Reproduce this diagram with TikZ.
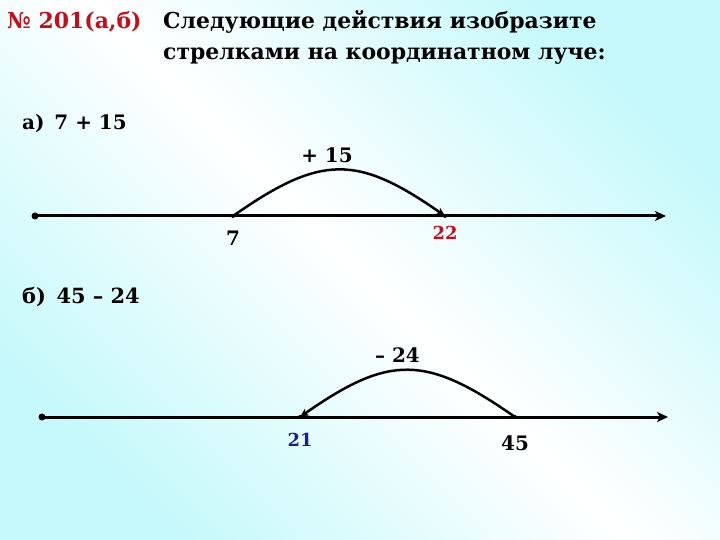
\documentclass[tikz,border=0pt]{standalone}
\usepackage{fontspec}
\setmainfont{DejaVu Serif}
\usepackage{tikz}
\usetikzlibrary{arrows.meta}
\definecolor{bgcyan}{RGB}{198,249,251}
\definecolor{numred}{RGB}{200,12,24}
\definecolor{numblue}{RGB}{28,28,150}

\begin{document}
\begin{tikzpicture}[x=1bp, y=-1bp,
  dot/.style = {circle, fill, inner sep=0pt, minimum size=4bp},
  txt/.style = {font=\bfseries\fontsize{20}{24}\selectfont, inner sep=0pt},
  big/.style = {font=\bfseries\fontsize{22}{26}\selectfont, inner sep=0pt},
  small/.style = {font=\bfseries\fontsize{18}{21}\selectfont, inner sep=0pt},
  ray/.style = {line width=3bp, -{Stealth[length=11bp,width=10bp,inset=3bp]}},
  jump/.style = {line width=2.5bp, -{Stealth[length=9bp,width=8bp]}},
  node distance=22bp]
% background
\shade[top color=bgcyan, bottom color=bgcyan, middle color=white, shading angle=-45] (0,0) rectangle (720,540);
\useasboundingbox (0,0) rectangle (720,540);
% title
\node[big, text=numred, anchor=base west] (num) at (7,29) {№ 201(а,б)};
\node[big, anchor=base west] (task1) at (163,29) {Следующие действия изобразите};
\node[big, anchor=base west] (task2) at (163,60) {стрелками на координатном луче:};
% a)
\node[txt, anchor=west] (qa) at (22,123) {а)\enspace 7 + 15};
\node[dot, minimum size=7bp] (a0) at (35,216) {};
\node[dot] (a7) at (233,216) {};
\node[dot] (a22) at (445,216) {};
\coordinate (aend) at (666,216);
\node[txt] (l7) [below of=a7] {7};
\node[small, text=numred] (l22) [below of=a22, node distance=17bp] {22};
\draw[ray] (a0.center) -- (aend);
\draw[jump] (a7.center) to[out=35, in=145, looseness=1.3] node[midway, above=6bp, xshift=-12bp, txt] (plus) {+ 15} (a22.center);
% b)
\node[txt, anchor=west, font=\bfseries\fontsize{21}{25}\selectfont] (qb) at (22,297) {б)\enspace 45 – 24};
\node[dot, minimum size=7bp] (b0) at (42,417) {};
\node[dot] (b21) at (300,417) {};
\node[dot] (b45) at (515,417) {};
\coordinate (bend) at (668,417);
\node[small, text=numblue] (l21) [below of=b21, node distance=23bp] {21};
\node[txt] (l45) [below of=b45, node distance=26bp] {45};
\draw[ray] (b0.center) -- (bend);
\draw[jump] (b45.center) to[out=145, in=35, looseness=1.3] node[midway, above=6bp, xshift=-10bp, txt] (minus) {– 24} (b21.center);
\end{tikzpicture}
\end{document}
